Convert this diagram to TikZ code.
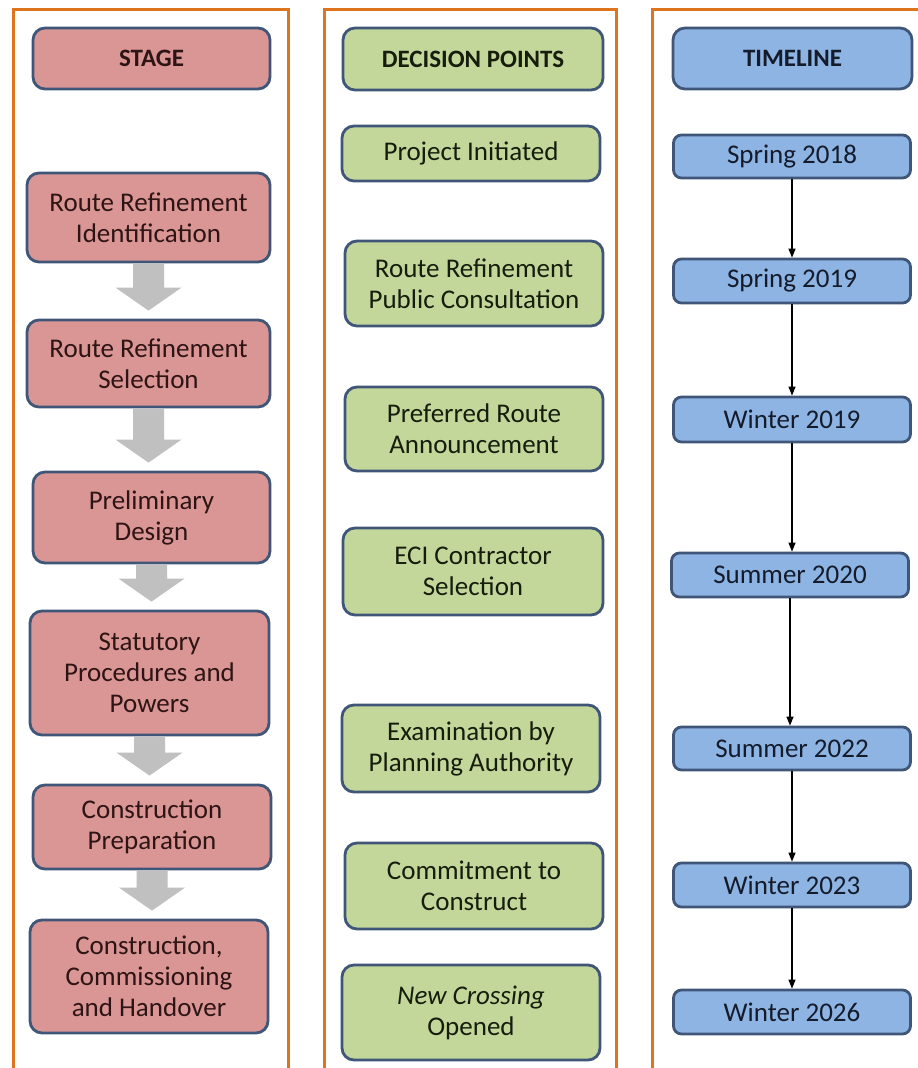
\documentclass[tikz,border=0pt]{standalone}
\usepackage{fontspec}
\setmainfont{Carlito}
\usetikzlibrary{calc,arrows.meta}
\definecolor{framec}{HTML}{DE741E}
\definecolor{edgec}{HTML}{3F5679}
\definecolor{pinkc}{HTML}{D99694}
\definecolor{greenc}{HTML}{C4D79B}
\definecolor{bluec}{HTML}{8EB4E3}
\definecolor{arrowgray}{HTML}{C0C0C0}
\definecolor{txtpink}{HTML}{2E1414}
\definecolor{txtgreen}{HTML}{161D0C}
\definecolor{txtblue}{HTML}{141C2C}
\tikzset{
  boxbase/.style={draw=edgec, line width=2.8pt, rounded corners=12pt, align=center, inner sep=2pt,
    font=\fontsize{27}{31}\selectfont},
  headbox/.style={boxbase, font=\fontsize{25}{31}\selectfont\bfseries},
  stagebox/.style={fill=pinkc, text=txtpink},
  decbox/.style={fill=greenc, text=txtgreen},
  timebox/.style={fill=bluec, text=txtblue},
  tbox/.style={boxbase, timebox, rounded corners=8pt},
  frame/.style={draw=framec, line width=3pt},
  tarrow/.style={draw=black, line width=1.2pt, -{Triangle[length=9pt,width=7pt]}}
}
\newcommand{\stagearrow}[2]{%
  \fill[arrowgray] let \p1=(#1.south), \p2=(#2.north) in
    (\x1-15.5pt,\y1) -- (\x1+15.5pt,\y1) -- (\x1+15.5pt,\y2+31pt) -- (\x1+33pt,\y2+31pt)
    -- (\x1,\y2+8pt) -- (\x1-33pt,\y2+31pt) -- (\x1-15.5pt,\y2+31pt) -- cycle;}
\begin{document}
\begin{tikzpicture}[x=1pt,y=-1pt]
\useasboundingbox (0,0) rectangle (918,1068);
\fill[white] (0,0) rectangle (918,1068);
% frames
\draw[frame] (13,1075) -- (13,9) -- (288,9) -- (288,1075);
\draw[frame] (324,1075) -- (324,9) -- (616,9) -- (616,1075);
\draw[frame] (652,1075) -- (652,9) -- (925,9);
% stage column
\node[headbox, stagebox, minimum width=237pt, minimum height=61pt] (hS) at (151.5,58.5) {STAGE};
\node[boxbase, stagebox, minimum width=243pt, minimum height=89pt] (s1) at (148.5,217.5) {Route Refinement\\Identification};
\node[boxbase, stagebox, minimum width=243pt, minimum height=87pt] (s2) at (148.5,363.5) {Route Refinement\\Selection};
\node[boxbase, stagebox, minimum width=237pt, minimum height=91pt] (s3) at (151.5,517.5) {Preliminary\\Design};
\node[boxbase, stagebox, minimum width=239pt, minimum height=124pt] (s4) at (149.5,673) {Statutory\\Procedures and\\Powers};
\node[boxbase, stagebox, minimum width=238pt, minimum height=84pt] (s5) at (152,827) {Construction\\Preparation};
\node[boxbase, stagebox, minimum width=238pt, minimum height=113pt] (s6) at (149,976.5) {Construction,\\Commissioning\\and Handover};
\stagearrow{s1}{s2}
\stagearrow{s2}{s3}
\stagearrow{s3}{s4}
\stagearrow{s4}{s5}
\stagearrow{s5}{s6}
% decision column
\node[headbox, decbox, minimum width=260pt, minimum height=62pt] (hD) at (473,59) {DECISION POINTS};
\node[boxbase, decbox, minimum width=258pt, minimum height=55pt] (d1) at (471,153.5) {Project Initiated};
\node[boxbase, decbox, minimum width=258pt, minimum height=85pt] (d2) at (474,283.5) {Route Refinement\\Public Consultation};
\node[boxbase, decbox, minimum width=258pt, minimum height=84pt] (d3) at (474,429) {Preferred Route\\Announcement};
\node[boxbase, decbox, minimum width=260pt, minimum height=87pt] (d4) at (473,571.5) {ECI Contractor\\Selection};
\node[boxbase, decbox, minimum width=258pt, minimum height=87pt] (d5) at (471,748.5) {Examination by\\Planning Authority};
\node[boxbase, decbox, minimum width=258pt, minimum height=86pt] (d6) at (474,886) {Commitment to\\Construct};
\node[boxbase, decbox, minimum width=258pt, minimum height=95pt] (d7) at (471,1012.5) {\textit{New Crossing}\\Opened};
% timeline column
\node[headbox, timebox, minimum width=239pt, minimum height=61pt] (hT) at (792.5,58.5) {TIMELINE};
\node[tbox, minimum width=237pt, minimum height=43pt] (t1) at (792,156.5) {Spring 2018};
\node[tbox, minimum width=237pt, minimum height=44pt] (t2) at (792,281) {Spring 2019};
\node[tbox, minimum width=237pt, minimum height=45pt] (t3) at (792,419.5) {Winter 2019};
\node[tbox, minimum width=237pt, minimum height=44pt] (t4) at (790,575) {Summer 2020};
\node[tbox, minimum width=237pt, minimum height=43pt] (t5) at (792,748.5) {Summer 2022};
\node[tbox, minimum width=237pt, minimum height=44pt] (t6) at (792,885) {Winter 2023};
\node[tbox, minimum width=237pt, minimum height=44pt] (t7) at (792,1012) {Winter 2026};
\draw[tarrow] (t1.south) -- (t1.south |- t2.north);
\draw[tarrow] (t2.south) -- (t2.south |- t3.north);
\draw[tarrow] (t3.south) -- (t3.south |- t4.north);
\draw[tarrow] (t4.south) -- (t4.south |- t5.north);
\draw[tarrow] (t5.south) -- (t5.south |- t6.north);
\draw[tarrow] (t6.south) -- (t6.south |- t7.north);
\end{tikzpicture}
\end{document}
